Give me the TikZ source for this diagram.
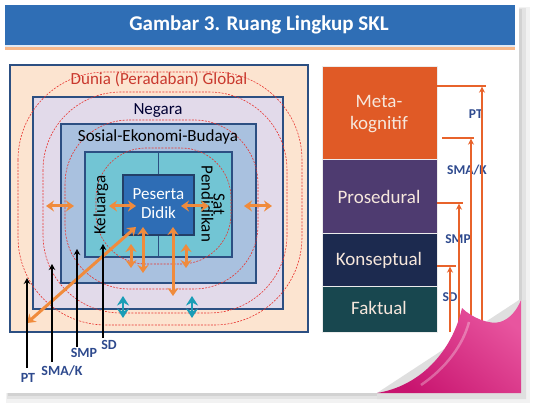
\documentclass[tikz,border=0pt]{standalone}
\usepackage{fontspec}
\setmainfont{Carlito}
\usetikzlibrary{arrows.meta}
\definecolor{titleblue}{HTML}{2F6EB5}
\definecolor{lineorange}{HTML}{F7B88A}
\definecolor{boxborder}{HTML}{2C4F82}
\definecolor{peach}{HTML}{FCE4D0}
\definecolor{lavender}{HTML}{E2DAEA}
\definecolor{steel}{HTML}{A9C1DF}
\definecolor{aqua}{HTML}{72C5D4}
\definecolor{pblue}{HTML}{2E6DB5}
\definecolor{ringred}{HTML}{E8342F}
\definecolor{arrorange}{HTML}{F08B3C}
\definecolor{tealc}{HTML}{1A9DB6}
\definecolor{labblue}{HTML}{2E4A8E}
\definecolor{duniared}{HTML}{C9392E}
\definecolor{metac}{HTML}{E05A26}
\definecolor{prosc}{HTML}{4E3B70}
\definecolor{konsc}{HTML}{1C2A4F}
\definecolor{faktc}{HTML}{18474F}
\definecolor{rline}{HTML}{E8632B}
\definecolor{cream}{HTML}{F6E7DC}
\definecolor{curllight}{HTML}{E8559F}
\definecolor{curldark}{HTML}{C8146F}
\begin{document}
\begin{tikzpicture}[x=1pt,y=-1pt,
  box/.style={draw=boxborder, line width=1.8pt, inner sep=0pt, outer sep=0pt},
  rbox/.style={draw=white!85!gray, line width=0.6pt, inner sep=0pt, outer sep=0pt, minimum width=115pt},
  ring/.style={draw=ringred, line width=0.6pt, dash pattern=on 2pt off 1.3pt},
  oarrow/.style={draw=arrorange, line width=3pt, {Stealth[length=8pt,width=11pt]}-{Stealth[length=8pt,width=11pt]}},
  tarrow/.style={draw=tealc, line width=2.4pt, {Stealth[length=9.5pt,width=12pt]}-{Stealth[length=9.5pt,width=12pt]}},
  barrow/.style={draw=black, line width=1.8pt, -{Stealth[length=6pt,width=6.5pt]}},
  rarrow/.style={draw=rline, line width=1.4pt, -{Stealth[length=6pt,width=6pt]}},
  rlinestyle/.style={draw=rline, line width=1.4pt},
  lab/.style={font=\fontsize{14}{14}\selectfont\bfseries, text=labblue, inner sep=0pt},
  rlab/.style={font=\fontsize{13.5}{14}\selectfont\bfseries, text=labblue, inner sep=0pt},
  mid/.style={font=\fontsize{17}{19}\selectfont, inner sep=0pt, align=center},
  rtxt/.style={font=\fontsize{19}{22}\selectfont, text=cream, inner sep=0pt, align=center}
]
\useasboundingbox (0,0) rectangle (533,406);
\fill[white] (0,0) rectangle (533,406);
% slide shadow and page
\fill[gray!10] (6,7) rectangle (530,403);
\fill[gray!22] (7,8) rectangle (526,399);
\fill[gray!35] (8,9) rectangle (522,396);
\fill[white] (5,5) rectangle (519,393);
% title
\fill[titleblue] (5,5) rectangle (515,45);
\fill[titleblue!15] (5,45) rectangle (515,47);
\fill[lineorange] (5,47.5) rectangle (515,50.5);
\node[font=\fontsize{21}{24}\selectfont\bfseries, text=white] (title) at (259,25) {Gambar 3. Ruang Lingkup SKL};

% nested boxes
\node[box, fill=peach, minimum width=298pt, minimum height=267pt] (dunia) at (159,198.5) {};
\node[box, fill=lavender, minimum width=250pt, minimum height=212pt] (negara) at (158,203) {};
\node[box, fill=steel, minimum width=195pt, minimum height=159pt] (sosial) at (158.5,203.5) {};
\node[box, fill=aqua, minimum width=147pt, minimum height=105pt] (kel) at (158.5,204.5) {};
\draw[boxborder, line width=1.5pt] (kel.north) -- (kel.south);
\node[box, draw=boxborder!80!black, line width=1.2pt, fill=pblue, minimum width=71pt, minimum height=60pt] (peserta) at (158.5,205) {};

% rings
\draw[ring, rounded corners=88pt] (18,72) rectangle (302,325);
\draw[ring, rounded corners=78pt] (43,92) rectangle (287,313);
\draw[ring, rounded corners=64pt] (65,120) rectangle (258,289);
\draw[ring, rounded corners=50pt] (96,148) rectangle (231,264);

% texts
\node[mid, text=duniared] (tdunia) at (159,79) {Dunia (Peradaban) Global};
\node[mid, text=black!80!blue] (tnegara) at (158,111) {Negara};
\node[mid, text=black] (tsosial) at (158,137) {Sosial-Ekonomi-Budaya};
\node[mid, text=black, rotate=90] (tkel) at (101,205) {Keluarga};
\node[mid, text=black, rotate=-90, font=\fontsize{17}{12}\selectfont] (tsat) at (213,204) {Sat\\Pendidikan};
\node[mid, text=white] (tpes) at (158.5,204) {Peserta\\[0pt]Didik};

% orange arrows
\coordinate (h1a) at (46,206); \coordinate (h1b) at (74,206);
\coordinate (h2a) at (109,206); \coordinate (h2b) at (136,206);
\coordinate (h3a) at (181,206); \coordinate (h3b) at (209,206);
\coordinate (h4a) at (244,206); \coordinate (h4b) at (272,206);
\coordinate (v1a) at (131,244); \coordinate (v1b) at (131,268);
\coordinate (v2a) at (143,227); \coordinate (v2b) at (143,273);
\coordinate (v3a) at (173,227); \coordinate (v3b) at (173,296);
\coordinate (v4a) at (186,244); \coordinate (v4b) at (186,268);
\coordinate (da) at (136,227); \coordinate (db) at (27,323);
\draw[oarrow] (h1a) -- (h1b);
\draw[oarrow] (h2a) -- (h2b);
\draw[oarrow] (h3a) -- (h3b);
\draw[oarrow] (h4a) -- (h4b);
\draw[oarrow] (v1a) -- (v1b);
\draw[oarrow] (v2a) -- (v2b);
\draw[oarrow] (v3a) -- (v3b);
\draw[oarrow] (v4a) -- (v4b);
\draw[oarrow] (da) -- (db);
% teal diamonds
\coordinate (t1a) at (123,296); \coordinate (t1b) at (123,318);
\coordinate (t2a) at (192,296); \coordinate (t2b) at (192,318);
\draw[tarrow] (t1a) -- (t1b);
\draw[tarrow] (t2a) -- (t2b);

% black level arrows
\node[lab] (lpt) at (28,378) {PT};
\node[lab] (lsma) at (62,371) {SMA/K};
\node[lab] (lsmp) at (84,353) {SMP};
\node[lab] (lsd) at (109,345) {SD};
\coordinate (bpt1) at (27,368); \coordinate (bpt2) at (27,278);
\coordinate (bsma1) at (52,362); \coordinate (bsma2) at (52,264);
\coordinate (bsmp1) at (77,347); \coordinate (bsmp2) at (77,249);
\coordinate (bsd1) at (103,338); \coordinate (bsd2) at (103,244);
\draw[barrow] (bpt1) -- (bpt2);
\draw[barrow] (bsma1) -- (bsma2);
\draw[barrow] (bsmp1) -- (bsmp2);
\draw[barrow] (bsd1) -- (bsd2);

% right stacked boxes
\node[rbox, fill=metac, minimum height=93pt] (meta) at (379.5,112.5) {};
\node[rbox, fill=prosc, minimum height=74pt] (pros) at (379.5,196) {};
\node[rbox, fill=konsc, minimum height=53pt] (kons) at (379.5,259.5) {};
\node[rbox, fill=faktc, minimum height=46pt] (fakt) at (379.5,309) {};
\node[rtxt] (tmeta) at (379,114) {Meta-\\kognitif};
\node[rtxt] (tpros) at (379,197) {Prosedural};
\node[rtxt] (tkons) at (379,260) {Konseptual};
\node[rtxt] (tfakt) at (379,308) {Faktual};

% right labels and lines
\node[rlab, anchor=east] (rpt) at (483,114) {PT};
\node[rlab] (rsma) at (467,170) {SMA/K};
\node[rlab] (rsmp) at (458,239) {SMP};
\node[rlab] (rsd) at (450,297) {SD};
\coordinate (p1) at (437,86); \coordinate (p2) at (486,86);
\coordinate (p3) at (482,332); \coordinate (p4) at (482,86.7);
\coordinate (s1) at (442,138); \coordinate (s2) at (474,138);
\coordinate (s3) at (471,332); \coordinate (s4) at (471,138.7);
\coordinate (m1) at (437,203); \coordinate (m2) at (463,203);
\coordinate (m3) at (459,332); \coordinate (m4) at (459,203.7);
\coordinate (d1) at (437,266); \coordinate (d2) at (456,266);
\coordinate (d3) at (450,332); \coordinate (d4) at (450,266.7);
\draw[rlinestyle] (p1) -- (p2); \draw[rarrow] (p3) -- (p4);
\draw[rlinestyle] (s1) -- (s2); \draw[rarrow] (s3) -- (s4);
\draw[rlinestyle] (m1) -- (m2); \draw[rarrow] (m3) -- (m4);
\draw[rlinestyle] (d1) -- (d2); \draw[rarrow] (d3) -- (d4);

% page curl
\fill[gray!25] (519,300) -- (526,300) -- (526,399) -- (377,399) -- (377,393) -- cycle;
\shade[shading=axis, top color=curllight, bottom color=curldark, shading angle=-40]
  (462,308) .. controls (472,318) and (490,325) .. (500,322)
  .. controls (510,319) and (517,310) .. (521,300)
  -- (521,393) -- (377,393)
  .. controls (420,386) and (452,352) .. (462,308) -- cycle;
\draw[white, opacity=0.3, line width=2.5pt] (469,322) .. controls (463,345) and (446,368) .. (421,385);
\end{tikzpicture}
\end{document}
